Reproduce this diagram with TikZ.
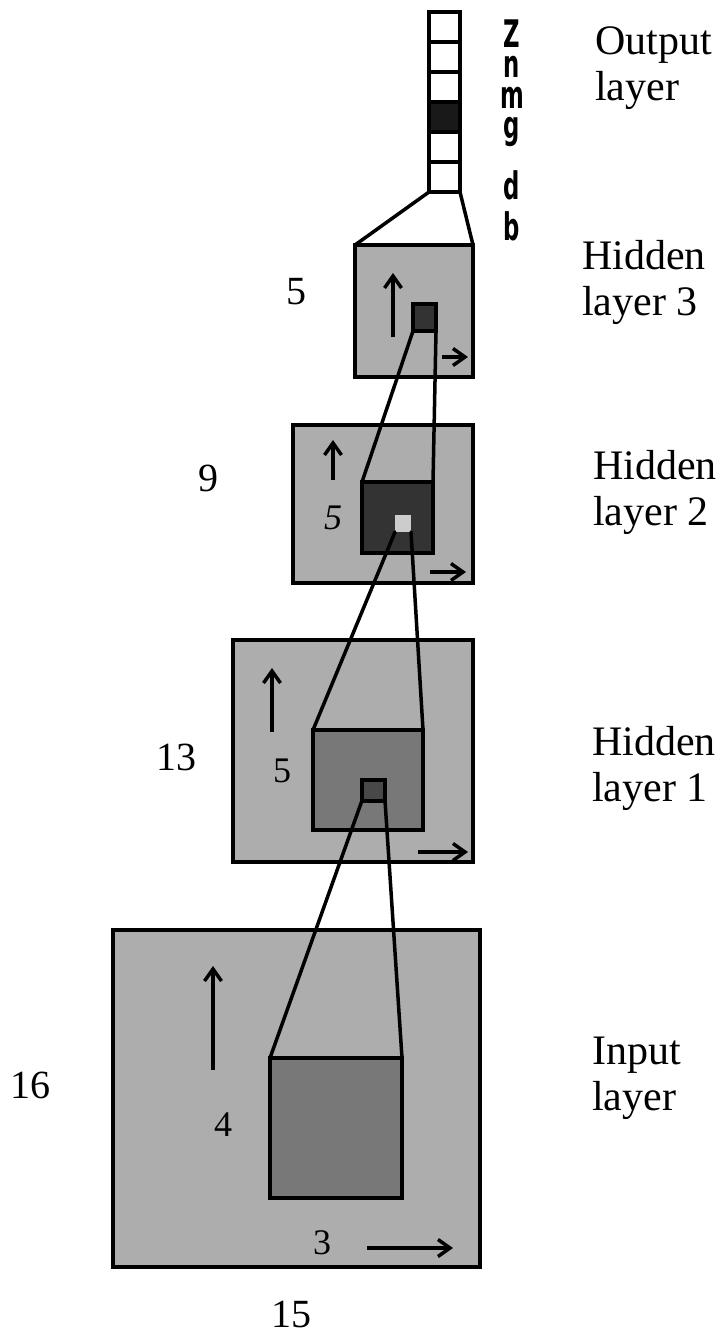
\documentclass[tikz,border=0pt]{standalone}
\usepackage{fontspec}
\setmainfont{Liberation Serif}
\newfontfamily\letfont{DejaVu Sans}
\usetikzlibrary{arrows.meta}
\definecolor{lightdots}{gray}{0.68}
\definecolor{middots}{gray}{0.47}
\definecolor{darkdots}{gray}{0.2}
\definecolor{paledots}{gray}{0.8}
\newcommand{\nar}[1]{\scalebox{0.6}[1]{#1}}
\begin{document}
\begin{tikzpicture}[x=1pt,y=-1pt,
  box/.style={draw=black,line width=4pt,inner sep=0pt,outer sep=0pt,anchor=center},
  cell/.style={box,fill=white,minimum width=31pt,minimum height=30pt},
  conn/.style={line width=3.5pt,line cap=round},
  dirarrow/.style={line width=3.5pt,-{Straight Barb[length=12pt,width=17pt,line width=3.5pt]}},
  lab/.style={font=\fontsize{42}{46}\selectfont,align=left,anchor=west,inner sep=0pt},
  num/.style={font=\fontsize{40}{40}\selectfont,inner sep=0pt},
  inum/.style={font=\fontsize{36}{36}\selectfont,inner sep=0pt},
  letters/.style={font=\letfont\bfseries\fontsize{38}{30.5}\selectfont,inner sep=0pt,align=center,anchor=north}]
\useasboundingbox (0,0) rectangle (723,1336);

% output column
\node[cell] (o1) at (444.5,27) {};
\node[cell] (o2) at (444.5,57) {};
\node[cell] (o3) at (444.5,87) {};
\node[cell,fill=black!90] (o4) at (444.5,117) {};
\node[cell] (o5) at (444.5,147) {};
\node[cell] (o6) at (444.5,177) {};

\node[letters] (codes) at (512,19.5) {\nar{Z}\\\nar{n}\\\nar{m}\\\nar{g}\\[23pt]\nar{d}\\[10pt]\nar{b}};

% hidden layer 3
\node[box,fill=lightdots,minimum width=118pt,minimum height=132pt] (h3) at (414,311) {};
\node[box,fill=darkdots,minimum width=23pt,minimum height=27pt] (h3s) at (424.5,317.5) {};
% hidden layer 2
\node[box,fill=lightdots,minimum width=180pt,minimum height=158pt] (h2) at (383,504) {};
\node[box,fill=darkdots,minimum width=71pt,minimum height=71pt] (h2in) at (397.5,517.5) {};
\node[inner sep=0pt,outer sep=0pt,fill=paledots,minimum width=16pt,minimum height=17pt] (h2t) at (403,523.5) {};
% hidden layer 1
\node[box,fill=lightdots,minimum width=240pt,minimum height=222pt] (h1) at (353,751) {};
\node[box,fill=middots,minimum width=110pt,minimum height=100pt] (h1in) at (368,780) {};
\node[box,fill=darkdots!70!middots,minimum width=23pt,minimum height=21pt] (h1s) at (373.5,790) {};
% input layer
\node[box,fill=lightdots,minimum width=367pt,minimum height=337pt] (inp) at (296.5,1098.5) {};
\node[box,fill=middots,minimum width=132pt,minimum height=140pt] (inpin) at (336,1128) {};

% connectors
\draw[conn] (o6.south west) -- (h3.north west);
\draw[conn] (o6.south east) -- (h3.north east);
\draw[conn] (h3s.south west) -- (h2in.north west);
\draw[conn] (h3s.south east) -- (h2in.north east);
\draw[conn] (h2t.south west) -- (h1in.north west);
\draw[conn] (h2t.south east) -- (h1in.north east);
\draw[conn] (h1s.south west) -- (inpin.north west);
\draw[conn] (h1s.south east) -- (inpin.north east);

% direction arrows
\coordinate (h3u0) at (393,337); \coordinate (h3u1) at (393,273);
\coordinate (h3r0) at (442,357); \coordinate (h3r1) at (468,357);
\draw[dirarrow] (h3u0) -- (h3u1);
\draw[dirarrow] (h3r0) -- (h3r1);
\coordinate (h2u0) at (333,480); \coordinate (h2u1) at (333,440);
\coordinate (h2r0) at (430,572); \coordinate (h2r1) at (466,572);
\draw[dirarrow] (h2u0) -- (h2u1);
\draw[dirarrow] (h2r0) -- (h2r1);
\coordinate (h1u0) at (272,732); \coordinate (h1u1) at (272,668);
\coordinate (h1r0) at (418,852); \coordinate (h1r1) at (468,852);
\draw[dirarrow] (h1u0) -- (h1u1);
\draw[dirarrow] (h1r0) -- (h1r1);
\coordinate (inu0) at (213,1070); \coordinate (inu1) at (213,966);
\coordinate (inr0) at (367,1248); \coordinate (inr1) at (453,1248);
\draw[dirarrow] (inu0) -- (inu1);
\draw[dirarrow] (inr0) -- (inr1);

% numbers inside
\node[inum] (n5b) at (333,518) {\textit{5}};
\node[inum] (n5c) at (282,771) {5};
\node[inum] (n4) at (223,1125) {4};
\node[inum] (n3) at (322,1243) {3};

% numbers outside
\node[num] (n5a) at (296,292) {5};
\node[num] (n9) at (208,478) {9};
\node[num] (n13) at (176,757) {13};
\node[num] (n16) at (30,1085) {16};
\node[num] (n15) at (291,1314) {15};

% layer labels
\node[lab] (lout) at (595,68) {Output\\layer};
\node[lab] (lh3) at (582,282) {Hidden\\layer 3};
\node[lab] (lh2) at (593,492) {Hidden\\layer 2};
\node[lab] (lh1) at (592,768) {Hidden\\layer 1};
\node[lab] (lin) at (592,1078) {Input\\layer};
\end{tikzpicture}
\end{document}
